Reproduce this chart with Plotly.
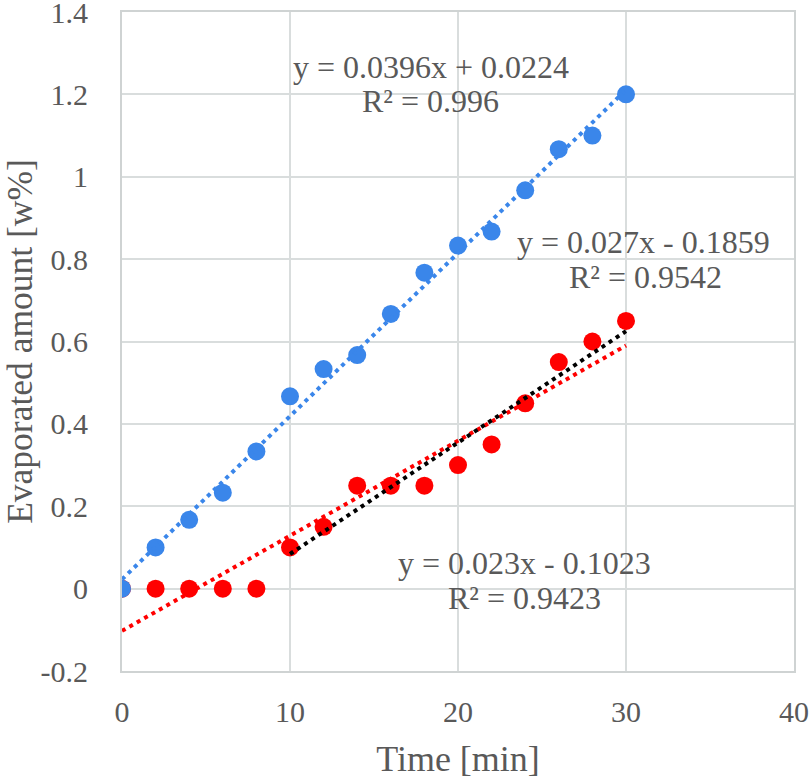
import numpy as np
import plotly.graph_objects as go

time_min = [0, 2, 4, 6, 8, 10, 12, 14, 16, 18, 20, 22, 24, 26, 28, 30]
blue_vals = [0, 0.1, 0.167, 0.233, 0.333, 0.467, 0.533, 0.567, 0.667, 0.767,
             0.833, 0.867, 0.967, 1.067, 1.1, 1.2]
red_vals = [0, 0, 0, 0, 0, 0.1, 0.15, 0.25, 0.25, 0.25, 0.3, 0.35, 0.45, 0.55,
            0.6, 0.65]
black_fit_start = 10

x_ticks = [0, 10, 20, 30, 40]
y_ticks = [-0.2, 0, 0.2, 0.4, 0.6, 0.8, 1.0, 1.2, 1.4]
y_tick_text = ["-0.2", "0", "0.2", "0.4", "0.6", "0.8", "1", "1.2", "1.4"]

eq_blue = ["y = 0.0396x + 0.0224", "R² = 0.996"]
eq_black = ["y = 0.027x - 0.1859", "R² = 0.9542"]
eq_red = ["y = 0.023x - 0.1023", "R² = 0.9423"]

BLUE = "#3a86ea"
RED = "#ff0000"
TXT = "#595959"
GRID = "#d9dddd"
FONT = "Times New Roman, Liberation Serif, serif"

x = np.array(time_min, dtype=float)
yb = np.array(blue_vals)
yr = np.array(red_vals)


def fit_line(xs, ys):
    k, b = np.polyfit(xs, ys, 1)
    xx = np.array([xs.min(), xs.max()])
    return xx, k * xx + b


fig = go.Figure()
fig.add_trace(go.Scatter(x=x, y=yr, mode="markers",
                         marker=dict(color=RED, size=18), showlegend=False))
fig.add_trace(go.Scatter(x=x, y=yb, mode="markers",
                         marker=dict(color=BLUE, size=18), showlegend=False))

bx, by = fit_line(x, yb)
fig.add_trace(go.Scatter(x=bx, y=by, mode="lines",
                         line=dict(color=BLUE, width=4, dash="4px,4.5px"),
                         showlegend=False))
rx, ry = fit_line(x, yr)
fig.add_trace(go.Scatter(x=rx, y=ry, mode="lines",
                         line=dict(color=RED, width=4, dash="4px,4.5px"),
                         showlegend=False))
m = x >= black_fit_start
kx, ky = fit_line(x[m], yr[m])
fig.add_trace(go.Scatter(x=kx, y=ky, mode="lines",
                         line=dict(color="black", width=4, dash="4px,4.5px"),
                         showlegend=False))

L, R, T, B = 122, 16, 12, 108
W, H = 810, 779
pw, ph = W - L - R, H - T - B


def px2paper(px, py):
    return (px - L) / pw, 1 - (py - T) / ph


anns = []
for (cx, cy, text) in [(431, 67, eq_blue[0]), (430, 101, eq_blue[1]),
                       (643, 242, eq_black[0]), (645, 277, eq_black[1]),
                       (524, 563, eq_red[0]), (524, 598, eq_red[1])]:
    ax_, ay_ = px2paper(cx, cy)
    anns.append(dict(x=ax_, y=ay_, xref="paper", yref="paper", text=text,
                     showarrow=False, xanchor="center", yanchor="middle",
                     font=dict(family=FONT, size=32, color=TXT)))

fig.update_layout(
    width=W, height=H,
    margin=dict(l=L, r=R, t=T, b=B, autoexpand=False),
    paper_bgcolor="white", plot_bgcolor="white",
    font=dict(family=FONT, color=TXT),
    annotations=anns,
    xaxis=dict(range=[0, 40], tickvals=x_ticks, showgrid=True,
               gridcolor=GRID, gridwidth=2, zeroline=False,
               showline=True, linecolor="#cfd3d3", linewidth=2, mirror=True,
               ticks="outside", ticklen=13, tickcolor="rgba(0,0,0,0)",
               ticklabeloverflow="allow",
               tickfont=dict(family=FONT, size=30, color=TXT),
               title=dict(text="Time [min]", standoff=22,
                          font=dict(family=FONT, size=36, color=TXT))),
    yaxis=dict(range=[-0.2, 1.4], tickvals=y_ticks, ticktext=y_tick_text,
               showgrid=True,
               gridcolor=GRID, gridwidth=2, zeroline=False,
               showline=True, linecolor="#cfd3d3", linewidth=2, mirror=True,
               ticks="outside", ticklen=26, tickcolor="rgba(0,0,0,0)",
               ticklabeloverflow="allow",
               tickfont=dict(family=FONT, size=30, color=TXT),
               title=dict(text="Evaporated amount [w%]", standoff=26,
                          font=dict(family=FONT, size=35.5, color=TXT))),
)

fig.write_html("out.html")
